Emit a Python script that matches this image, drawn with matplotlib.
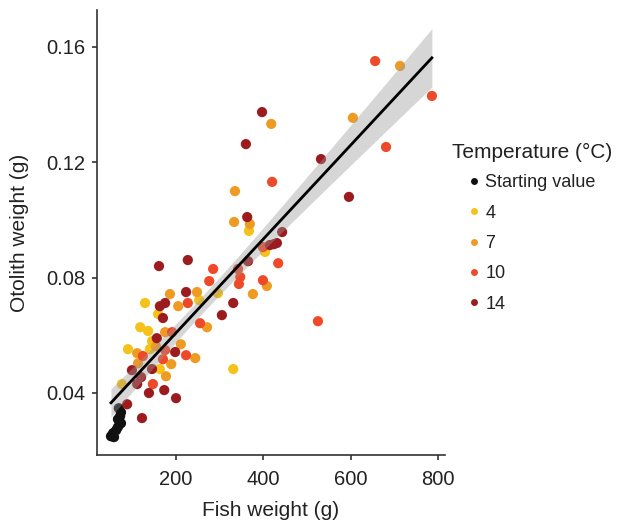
import numpy as np
import matplotlib
matplotlib.use('Agg')
import matplotlib.pyplot as plt
from matplotlib.lines import Line2D

plt.rcParams['font.family'] = ['Liberation Sans', 'DejaVu Sans']

# --- data -----------------------------------------------------------------
start_x = [69, 74, 72, 67, 74, 67, 63, 56, 51, 58]
start_y = [0.0347, 0.0333, 0.0320, 0.0309, 0.0295, 0.0282, 0.0271, 0.0261, 0.0250, 0.0247]

t4_x = [367, 404, 296, 129, 253, 159, 118, 136, 145, 90, 140, 163, 331, 76]
t4_y = [0.0962, 0.0889, 0.0746, 0.0712, 0.0722, 0.0674, 0.0628, 0.0615, 0.0580, 0.0552,
        0.0552, 0.0483, 0.0483, 0.0431]

t7_x = [713, 418, 605, 335, 333, 369, 408, 248, 186, 376, 205, 271, 175, 154, 211, 111,
        244, 189, 113, 177]
t7_y = [0.1534, 0.1333, 0.1354, 0.1100, 0.0993, 0.0986, 0.0771, 0.0750, 0.0743, 0.0743,
        0.0701, 0.0628, 0.0611, 0.0562, 0.0569, 0.0538, 0.0521, 0.0500, 0.0503, 0.0458]

t10_x = [656, 786, 681, 420, 399, 434, 525, 285, 276, 342, 347, 344, 399, 227, 255, 191,
         175, 124, 223, 170, 147]
t10_y = [0.1551, 0.1430, 0.1253, 0.1132, 0.0906, 0.0850, 0.0649, 0.0830, 0.0788, 0.0830,
         0.0802, 0.0778, 0.0791, 0.0712, 0.0642, 0.0611, 0.0549, 0.0528, 0.0531, 0.0517,
         0.0431]

t14_x = [397, 360, 532, 596, 363, 443, 415, 424, 431, 365, 161, 227, 223, 331, 305, 175,
         163, 170, 156, 198, 99, 145, 120, 111, 138, 173, 200, 88, 122]
t14_y = [0.1374, 0.1263, 0.1211, 0.1080, 0.1010, 0.0958, 0.0913, 0.0916, 0.0920, 0.0857,
         0.0840, 0.0861, 0.0750, 0.0712, 0.0670, 0.0712, 0.0701, 0.0660, 0.0590, 0.0542,
         0.0479, 0.0483, 0.0455, 0.0431, 0.0400, 0.0410, 0.0382, 0.0361, 0.0313]

groups = [
    ('Starting value', start_x, start_y, '#111111'),
    ('4', t4_x, t4_y, '#F5C21B'),
    ('7', t7_x, t7_y, '#EE9B24'),
    ('10', t10_x, t10_y, '#EE4A29'),
    ('14', t14_x, t14_y, '#9C1B1F'),
]

# --- figure ----------------------------------------------------------------
fig = plt.figure(figsize=(6.19, 5.27), dpi=100)
ax = fig.add_axes([97 / 619, 1 - 455 / 527, 348 / 619, 445 / 527])

for label, xs, ys, col in groups:
    ax.scatter(xs, ys, s=54, color=col, edgecolors='none', zorder=2)

# linear fit with 95% confidence band over all points
all_x = np.concatenate([np.asarray(g[1], float) for g in groups])
all_y = np.concatenate([np.asarray(g[2], float) for g in groups])
n = len(all_x)
slope, intercept = np.polyfit(all_x, all_y, 1)
resid = all_y - (intercept + slope * all_x)
s_err = np.sqrt(np.sum(resid ** 2) / (n - 2))
xm = all_x.mean()
sxx = np.sum((all_x - xm) ** 2)
xf = np.linspace(all_x.min(), all_x.max(), 200)
yf = intercept + slope * xf
ci = 1.98 * s_err * np.sqrt(1 / n + (xf - xm) ** 2 / sxx)
ax.fill_between(xf, yf - ci, yf + ci, color='#999999', alpha=0.4, linewidth=0, zorder=3)
ax.plot(xf, yf, color='black', lw=2.0, zorder=4)

ax.set_xlim(19, 816)
ax.set_ylim(0.0185, 0.1728)
ax.set_xticks([200, 400, 600, 800])
ax.set_yticks([0.04, 0.08, 0.12, 0.16])
ax.set_yticklabels(['0.04', '0.08', '0.12', '0.16'])

for side in ('top', 'right'):
    ax.spines[side].set_visible(False)
for side in ('left', 'bottom'):
    ax.spines[side].set_color('#333333')
    ax.spines[side].set_linewidth(1.2)
ax.tick_params(axis='both', colors='#333333', length=3.5, width=1.2,
               labelsize=14.5, labelcolor='#222222')
ax.tick_params(axis='x', pad=7)
ax.tick_params(axis='y', pad=5)

ax.set_xlabel('Fish weight (g)', fontsize=15, color='#222222', labelpad=9)
ax.set_ylabel('Otolith weight (g)', fontsize=15, color='#222222', labelpad=12)

# legend: title as separate text so the keys can sit indented under it
fig.text(452 / 619, 1 - 152 / 527, 'Temperature (°C)', fontsize=15, color='#222222',
         ha='left', va='center')
handles = [Line2D([], [], marker='o', linestyle='none', markersize=5,
                  markerfacecolor=col, markeredgecolor='none', label=label)
           for label, _, _, col in groups]
leg = fig.legend(handles=handles, loc='upper left', bbox_to_anchor=(460 / 619, 1 - 167 / 527),
                 frameon=False, fontsize=13, handlelength=0.8, handletextpad=0.2,
                 labelspacing=0.74, borderaxespad=0)
for t in leg.get_texts():
    t.set_color('#222222')

fig.savefig('out.png', dpi=100)
